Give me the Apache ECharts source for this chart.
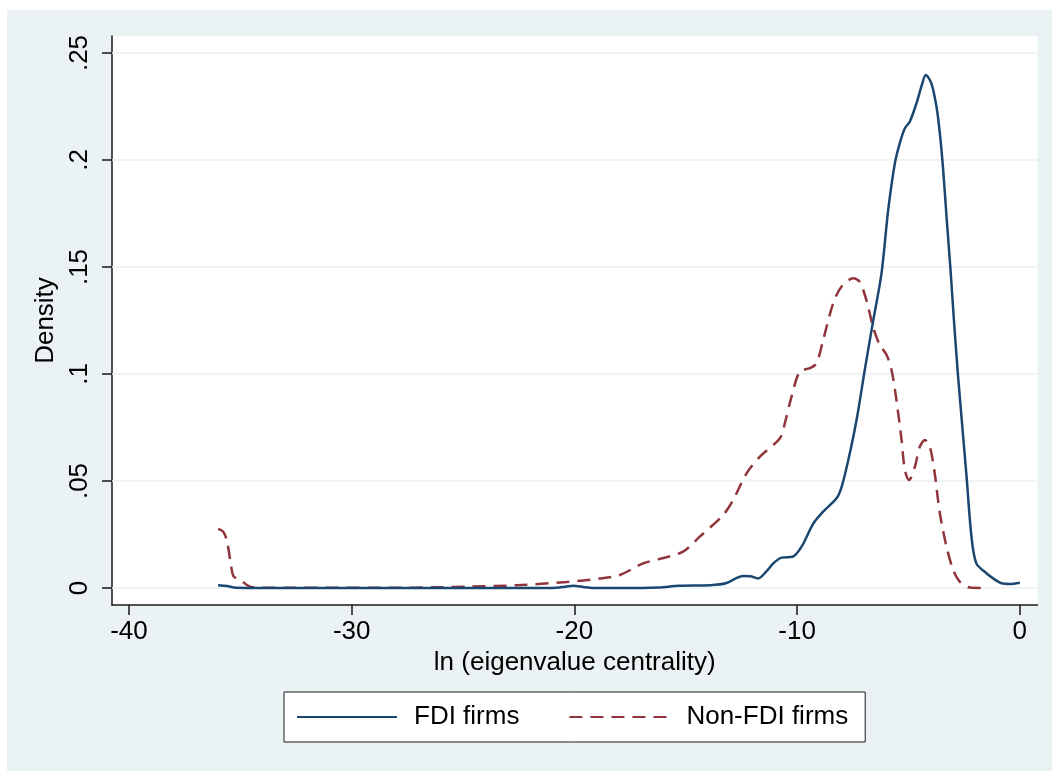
<!DOCTYPE html>
<html>
<head>
<meta charset="utf-8">
<script src="https://cdn.jsdelivr.net/npm/echarts@6/dist/echarts.min.js"></script>
<style>
  body { margin: 0; background: #fff; }
  #panel { position: absolute; left: 7px; top: 10px; width: 1045px; height: 761px; background: #eaf2f3; }
  #main { position: absolute; left: 0; top: 0; width: 1052px; height: 771px; }
</style>
</head>
<body>
<div id="panel"></div>
<div id="main"></div>
<script>
// kernel density of ln(eigenvalue centrality)
var fdiX = [-36.0, -35.6, -35.2, -34.0, -30.0, -25.0, -21.0, -20.4, -20.05, -19.6, -19.2, -17.0,
  -16.2, -15.3, -13.9, -13.2, -12.42, -12.1, -11.75, -11.4, -11.07, -10.7, -10.2, -9.8, -9.28,
  -8.83, -8.23, -8.0, -7.7, -7.33, -6.96, -6.59, -6.21, -5.91, -5.61, -5.39, -5.16, -4.94, -4.64,
  -4.4, -4.22, -3.97, -3.74, -3.59, -3.44, -3.29, -3.11, -2.95, -2.77, -2.39, -2.17, -1.95, -1.5,
  -1.1, -0.82, -0.45, 0.0];
var fdiY = [0.0013, 0.0009, 0.0001, 0.0, 0.0, 0.0, 0.0, 0.0006, 0.0011, 0.0005, 0.0, 0.0,
  0.0002, 0.001, 0.0013, 0.0022, 0.0056, 0.0055, 0.0045, 0.0075, 0.0115, 0.0142, 0.0146, 0.0193, 0.030,
  0.0357, 0.0419, 0.0473, 0.0598, 0.0785, 0.102, 0.1245, 0.147, 0.1766, 0.1985, 0.2078, 0.2148, 0.2179, 0.2265,
  0.235, 0.2397, 0.2358, 0.2249, 0.2125, 0.1953, 0.1735, 0.1486, 0.124, 0.0987, 0.052, 0.024, 0.0115, 0.0069,
  0.0038, 0.0022, 0.0019, 0.0025];

var nonFdiX = [-36.0, -35.77, -35.61, -35.43, -35.31, -35.0, -34.57, -34.1, -30.0, -28.0, -26.3,
  -24.8, -22.6, -20.35, -18.85, -17.96, -16.91, -16.16, -15.12, -14.37, -13.32, -12.87, -12.27,
  -11.67, -10.77, -10.55, -10.25, -9.88, -9.43, -9.13, -8.83, -8.38, -8.01, -7.48, -7.19, -6.89,
  -6.59, -6.29, -5.98, -5.76, -5.54, -5.31, -5.16, -4.97, -4.71, -4.49, -4.26, -4.04, -3.82,
  -3.59, -3.29, -2.99, -2.69, -2.24, -1.57];
var nonFdiY = [0.0276, 0.0263, 0.0224, 0.0115, 0.0056, 0.0037, 0.0006, 0.0001, 0.0001, 0.0001, 0.0003,
  0.0006, 0.0013, 0.0028, 0.0044, 0.0061, 0.0115, 0.0136, 0.017, 0.024, 0.0341, 0.0411, 0.0536,
  0.0614, 0.070, 0.077, 0.0894, 0.1011, 0.1027, 0.105, 0.1159, 0.133, 0.1408, 0.1447, 0.1431, 0.1346,
  0.1221, 0.1136, 0.1089, 0.1019, 0.0879, 0.0692, 0.0551, 0.0505, 0.0567, 0.066, 0.0692, 0.066, 0.0536,
  0.0349, 0.0193, 0.0084, 0.0029, 0.0002, 0.0];

var xTicks = [-40, -30, -20, -10, 0];
var yTicks = [0, 0.05, 0.1, 0.15, 0.2, 0.25];
var yTickLabels = ['0', '.05', '.1', '.15', '.2', '.25'];

function pairs(xs, ys) {
  var res = [];
  for (var i = 0; i < xs.length; ++i) {
    res.push([xs[i], ys[i]]);
  }
  return res;
}

var font = '"Liberation Sans", Arial, sans-serif';
var lineColor = '#1a1a1a';

var option = {
  animation: false,
  grid: {
    left: 112,
    right: 14.5,
    top: 36,
    bottom: 166,
    show: true,
    backgroundColor: '#fff',
    borderWidth: 0
  },
  legend: {
    data: ['FDI firms', 'Non-FDI firms'],
    left: 284,
    top: 692,
    padding: [12, 17, 12, 12],
    itemWidth: 100,
    itemHeight: 14,
    itemGap: 49,
    itemStyle: { opacity: 0 },   // hide the dot, keep the line sample
    borderColor: lineColor,
    borderWidth: 1,
    backgroundColor: '#fff',
    textStyle: { fontFamily: font, fontSize: 26, color: '#000', padding: [0, 0, 0, 12] }
  },
  xAxis: {
    type: 'value',
    min: -40.763,
    max: 0.795,
    name: 'ln (eigenvalue centrality)',
    nameLocation: 'middle',
    nameGap: 44,
    nameTextStyle: { fontFamily: font, fontSize: 26, color: '#000' },
    axisLine: { onZero: false, lineStyle: { color: lineColor, width: 1.5 } },
    axisTick: { customValues: xTicks, length: 10, lineStyle: { color: lineColor, width: 1.5 } },
    axisLabel: { customValues: xTicks, margin: 14, fontFamily: font, fontSize: 26, color: '#000' },
    splitLine: { show: false }
  },
  yAxis: {
    type: 'value',
    min: -0.00794,
    max: 0.25794,
    name: 'Density',
    nameLocation: 'middle',
    nameGap: 39,
    nameTextStyle: { fontFamily: font, fontSize: 26, color: '#000' },
    axisLine: { show: true, onZero: false, lineStyle: { color: lineColor, width: 1.5 } },
    axisTick: { show: true, customValues: yTicks, length: 10, lineStyle: { color: lineColor, width: 1.5 } },
    axisLabel: {
      customValues: yTicks,
      rotate: 90,
      margin: 19,
      fontFamily: font,
      fontSize: 26,
      color: '#000',
      formatter: function (v) {
        var i = yTicks.indexOf(v);
        return i >= 0 ? yTickLabels[i] : '';
      }
    },
    splitLine: { show: false }
  },
  series: [
    {
      name: 'gridlines',
      type: 'line',
      data: [],
      z: 1,
      silent: true,
      markLine: {
        silent: true,
        symbol: 'none',
        label: { show: false },
        lineStyle: { color: '#eaf2f3', width: 1.5, type: 'solid' },
        data: yTicks.map(function (v) { return { yAxis: v }; })
      }
    },
    {
      name: 'FDI firms',
      type: 'line',
      data: pairs(fdiX, fdiY),
      symbol: 'none',
      smooth: 0.3,
      zlevel: 1,
      z: 3,
      lineStyle: { color: '#1a476f', width: 2.5 },
      itemStyle: { color: '#1a476f' }
    },
    {
      name: 'Non-FDI firms',
      type: 'line',
      data: pairs(nonFdiX, nonFdiY),
      symbol: 'none',
      smooth: 0.3,
      zlevel: 1,
      z: 2,
      lineStyle: { color: '#90353b', width: 2.5, type: [13, 8] },
      itemStyle: { color: '#90353b' }
    }
  ]
};

var chart = echarts.init(document.getElementById('main'));
chart.setOption(option);
</script>
</body>
</html>
